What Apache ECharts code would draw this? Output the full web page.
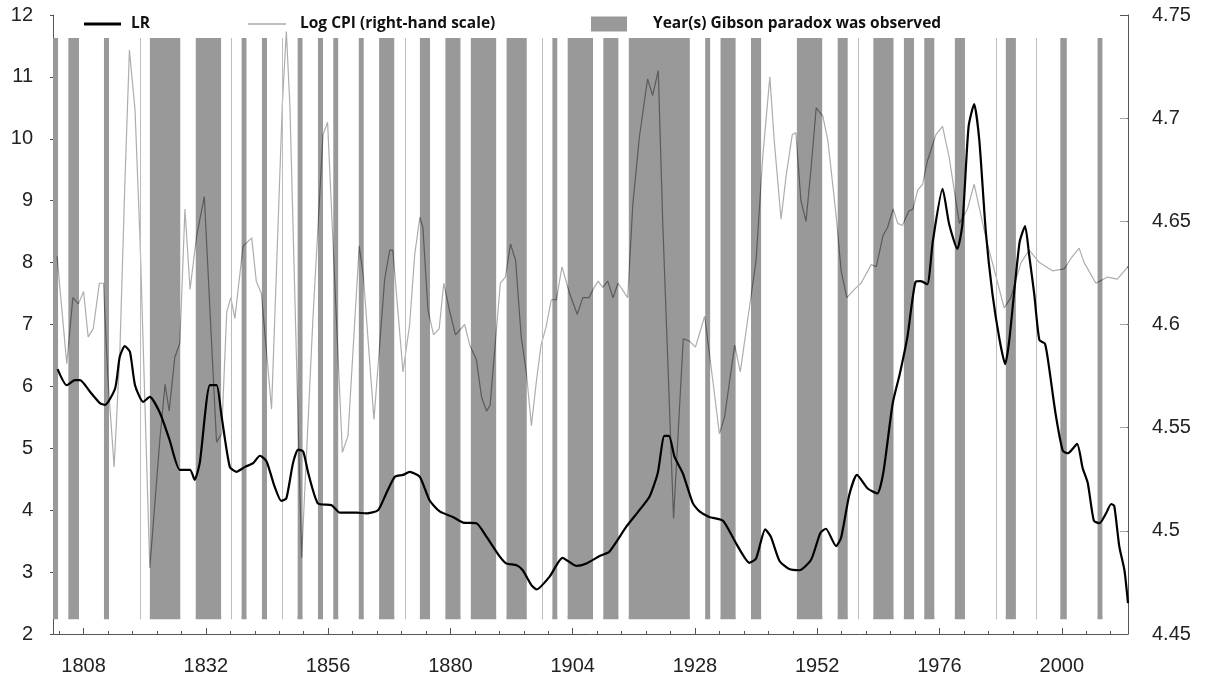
<!DOCTYPE html>
<html><head><meta charset="utf-8">
<script src="https://cdn.jsdelivr.net/npm/echarts@6/dist/echarts.min.js"></script>
<style>html,body{margin:0;padding:0;background:#fff}#c{width:1208px;height:684px}</style>
</head><body><div id="c"></div>
<script>
// ---------- DATA ----------
const lrYears = [1802.9,1804.7,1806.3,1807.3,1809.3,1811.2,1812.2,1814.2,1815.1,1816.1,1817.1,1818.1,1819.7,1821.0,1823.0,1824.9,1826.9,1828.9,1829.8,1830.8,1832.8,1834.1,1835.1,1836.7,1838.0,1839.7,1841.3,1842.6,1843.9,1845.5,1846.8,1847.8,1849.1,1850.1,1851.1,1852.1,1854.0,1856.7,1858.3,1861.6,1863.5,1865.8,1867.4,1869.1,1870.7,1872.0,1874.0,1875.9,1877.9,1880.5,1882.5,1885.1,1887.1,1889.7,1891.0,1893.0,1894.2,1895.9,1896.9,1899.5,1902.0,1904.7,1906.7,1909.3,1911.2,1914.5,1917.1,1919.1,1920.7,1922.0,1922.9,1924.0,1925.6,1927.6,1928.9,1930.8,1933.5,1936.1,1938.7,1940.0,1941.8,1942.9,1944.6,1946.5,1948.5,1950.8,1952.6,1953.7,1955.7,1956.7,1958.3,1959.8,1961.9,1963.8,1965.0,1966.8,1968.2,1969.7,1971.3,1972.3,1973.6,1974.7,1976.6,1977.9,1979.5,1980.5,1981.7,1982.8,1983.8,1985.1,1986.4,1987.8,1988.9,1989.7,1991.7,1992.8,1993.6,1994.6,1995.6,1996.7,1997.5,1998.8,2000.2,2001.2,2003.0,2004.1,2005.1,2006.3,2007.4,2008.7,2009.7,2010.3,2011.3,2012.3,2013.0];
const lrValues = [6.28,6.02,6.10,6.10,5.91,5.73,5.70,5.97,6.48,6.65,6.56,6.02,5.75,5.83,5.57,5.13,4.65,4.65,4.49,4.76,6.02,6.02,5.51,4.70,4.62,4.70,4.76,4.88,4.79,4.38,4.15,4.19,4.76,4.98,4.95,4.60,4.11,4.08,3.96,3.96,3.95,4.00,4.27,4.54,4.57,4.62,4.54,4.16,3.98,3.89,3.80,3.79,3.57,3.25,3.14,3.11,3.03,2.79,2.72,2.93,3.23,3.10,3.14,3.26,3.33,3.73,4.00,4.22,4.60,5.20,5.20,4.86,4.60,4.11,3.98,3.89,3.83,3.46,3.15,3.22,3.69,3.57,3.18,3.05,3.03,3.20,3.63,3.70,3.42,3.56,4.25,4.57,4.35,4.27,4.62,5.72,6.20,6.80,7.69,7.70,7.65,8.35,9.19,8.62,8.22,8.62,10.19,10.56,9.99,8.49,7.49,6.75,6.36,6.75,8.32,8.59,8.12,7.49,6.75,6.69,6.31,5.55,4.96,4.92,5.07,4.68,4.44,3.83,3.79,3.95,4.10,4.07,3.41,3.03,2.50];

const cpiYears = [1802.8,1804.7,1805.9,1807.0,1808.0,1808.9,1809.9,1811.1,1811.9,1812.8,1814.0,1815.1,1816.1,1817.0,1818.1,1819.1,1821.0,1823.0,1824.0,1824.8,1825.9,1826.9,1827.9,1828.9,1830.2,1831.7,1834.1,1835.1,1836.1,1836.9,1837.7,1839.3,1841.0,1841.9,1842.9,1844.9,1847.0,1847.8,1848.5,1850.8,1853.0,1855.0,1855.9,1858.8,1859.9,1862.1,1862.9,1865.0,1867.1,1868.1,1868.7,1870.7,1872.0,1873.0,1874.0,1874.6,1875.6,1876.7,1877.8,1878.7,1879.9,1881.0,1882.8,1883.8,1885.1,1886.1,1887.1,1887.8,1889.8,1890.8,1891.8,1892.8,1893.9,1894.9,1895.9,1896.9,1897.8,1898.8,1899.8,1900.8,1901.9,1903.4,1904.9,1906.0,1907.2,1908.0,1909.0,1909.9,1910.9,1911.9,1912.9,1914.8,1915.8,1917.1,1918.7,1919.7,1920.8,1921.7,1923.8,1925.7,1926.9,1928.1,1929.9,1931.5,1932.8,1933.8,1935.8,1936.9,1940.0,1941.3,1942.7,1943.6,1944.9,1945.9,1947.1,1947.8,1948.8,1949.8,1950.8,1951.8,1953.1,1954.1,1955.7,1956.7,1957.8,1959.3,1960.6,1962.6,1963.6,1964.9,1965.8,1966.9,1967.8,1968.7,1970.0,1970.8,1971.7,1972.7,1973.6,1975.3,1976.6,1977.9,1979.9,1981.5,1982.8,1985.1,1986.7,1988.7,1990.0,1992.0,1993.6,1995.6,1998.2,2000.5,2001.8,2003.4,2004.4,2006.7,2009.0,2010.9,2012.3,2013.0];
const cpiValues = [4.633,4.581,4.613,4.610,4.616,4.594,4.598,4.620,4.620,4.573,4.531,4.585,4.668,4.733,4.704,4.640,4.482,4.545,4.571,4.558,4.584,4.591,4.656,4.617,4.643,4.662,4.543,4.547,4.606,4.613,4.603,4.638,4.642,4.621,4.615,4.559,4.706,4.742,4.706,4.487,4.602,4.692,4.698,4.538,4.546,4.638,4.624,4.554,4.622,4.636,4.636,4.577,4.600,4.634,4.652,4.647,4.607,4.595,4.598,4.620,4.606,4.595,4.600,4.590,4.583,4.565,4.558,4.561,4.620,4.623,4.639,4.631,4.594,4.577,4.551,4.573,4.590,4.599,4.612,4.612,4.628,4.615,4.605,4.613,4.613,4.617,4.621,4.618,4.621,4.613,4.620,4.613,4.658,4.691,4.719,4.711,4.723,4.648,4.506,4.593,4.592,4.589,4.604,4.573,4.547,4.555,4.590,4.577,4.631,4.681,4.720,4.688,4.651,4.672,4.692,4.693,4.660,4.650,4.676,4.705,4.701,4.689,4.653,4.626,4.613,4.617,4.620,4.629,4.628,4.643,4.647,4.656,4.649,4.648,4.655,4.656,4.665,4.668,4.679,4.692,4.696,4.681,4.649,4.656,4.668,4.642,4.627,4.608,4.613,4.630,4.636,4.630,4.626,4.627,4.632,4.637,4.630,4.620,4.623,4.622,4.626,4.628];

// Years in which the Gibson paradox was observed (start, end of each shaded span;
// equal start and end = a single boundary year drawn as a hairline)
const gibsonStart = [1802,1805,1812,1819,1821,1830,1837,1839,1843,1847,1850,1854,1857,1862,1866,1871,1874,1879,1884,1891,1898,1900,1903,1910,1915,1930,1933,1939,1948,1956,1960,1963,1969,1973,1979,1987,1989,1995,1999.7,2007];
const gibsonEnd   = [1803,1807.1,1813,1819,1827,1835,1837,1840,1844,1847,1851,1855,1858,1863,1869,1871,1876,1882,1889,1895,1898,1901,1908,1913,1927,1931,1936,1941,1953,1958,1960,1967,1971,1975,1981,1987,1991,1995,2001,2008];

const xTickLabels = [1808,1832,1856,1880,1904,1928,1952,1976,2000];
const seriesNames = ['LR','Log CPI (right-hand scale)','Year(s) Gibson paradox was observed'];

// ---------- CHART ----------
const X_MIN = 1802, X_MAX = 2013;
const BAR_TOP = 11.63, BAR_BOTTOM = 2.24;
const BAR_COLOR = '#999999';
const minorTicks = [];
for (let v = 1808 - 4.8; v < X_MAX; v += 4.8) if (v > X_MIN) minorTicks.push(+v.toFixed(2));

const wideBars = [], thinBars = [];
gibsonStart.forEach((s, i) => { (gibsonEnd[i] > s ? wideBars : thinBars).push([s, gibsonEnd[i]]); });
// gaps between the shaded spans (used to lighten the CPI line outside the shading)
const gaps = [];
let prev = X_MIN;
wideBars.slice().sort((a, b) => a[0] - b[0]).forEach(b => { if (b[0] > prev) gaps.push([prev, b[0]]); prev = Math.max(prev, b[1]); });
if (prev < X_MAX) gaps.push([prev, X_MAX]);

const chart = echarts.init(document.getElementById('c'), null, {renderer: 'canvas'});
const font = 'Liberation Sans, Arial, sans-serif';
function legendText(pad) {
  return {fontFamily: 'Open Sans, sans-serif', fontWeight: 'bold', fontSize: 15.5, color: '#111',
          rich: {t: {fontFamily: 'Open Sans, sans-serif', fontWeight: 'bold', fontSize: 15.5, color: '#111', padding: [0, 0, 0, pad]}}};
}

chart.setOption({
  backgroundColor: '#ffffff',
  animation: false,
  grid: {left: 53, right: 80, top: 15, bottom: 50},
  legend: [
    {data: [seriesNames[0]], left: 84, top: 16, padding: 0, icon: 'rect', itemWidth: 37, itemHeight: 3,
     formatter: n => '{t|' + n + '}', textStyle: legendText(5), itemStyle: {color: '#000'}},
    {data: [seriesNames[1]], left: 248, top: 16, padding: 0, icon: 'rect', itemWidth: 38, itemHeight: 1.5,
     formatter: n => '{t|' + n + '}', textStyle: legendText(9), itemStyle: {color: '#a8a8a8'}},
    {data: [seriesNames[2]], left: 591, top: 16, padding: 0, icon: 'rect', itemWidth: 36, itemHeight: 15,
     formatter: n => '{t|' + n + '}', textStyle: legendText(21), itemStyle: {color: BAR_COLOR}}
  ],
  xAxis: [
    {type: 'value', min: X_MIN, max: X_MAX, position: 'bottom',
     axisLine: {show: true, lineStyle: {color: '#555', width: 1}},
     axisTick: {show: true, inside: true, length: 6, customValues: xTickLabels, lineStyle: {color: '#555'}},
     axisLabel: {customValues: xTickLabels, formatter: v => String(v), fontFamily: font, fontSize: 20, color: '#222', margin: 22},
     splitLine: {show: false}},
    {type: 'value', min: X_MIN, max: X_MAX, position: 'bottom',
     axisLine: {show: false},
     axisTick: {show: true, inside: true, length: 3, customValues: minorTicks, lineStyle: {color: '#555'}},
     axisLabel: {show: false}, splitLine: {show: false}}
  ],
  yAxis: [
    {type: 'value', min: 2, max: 12, interval: 1, position: 'left',
     axisLine: {show: true, lineStyle: {color: '#555'}},
     axisTick: {show: true, length: 3, lineStyle: {color: '#555'}},
     axisLabel: {fontFamily: font, fontSize: 20, color: '#222', margin: 20, padding: [8, 0, 0, 0]},
     splitLine: {show: false}},
    {type: 'value', min: 4.45, max: 4.75, interval: 0.05, position: 'right',
     axisLine: {show: true, lineStyle: {color: '#555'}},
     axisTick: {show: true, inside: true, length: 8, lineStyle: {color: '#555'}},
     axisLabel: {fontFamily: font, fontSize: 20, color: '#222', margin: 24, padding: [6, 0, 0, 0]},
     splitLine: {show: false}}
  ],
  series: [
    // shaded spans (bottom layer)
    {name: seriesNames[2], type: 'custom', xAxisIndex: 0, yAxisIndex: 0, z: 1,
     itemStyle: {color: BAR_COLOR}, silent: true,
     data: wideBars, encode: {x: [0, 1]},
     renderItem: function (params, api) {
       const p0 = api.coord([api.value(0), BAR_TOP]);
       const p1 = api.coord([api.value(1), BAR_BOTTOM]);
       return {type: 'rect', shape: {x: p0[0], y: p0[1], width: p1[0] - p0[0], height: p1[1] - p0[1]},
               style: {fill: BAR_COLOR}};
     }},
    // CPI line (drawn dark, lightened outside the shading below)
    {name: seriesNames[1], type: 'line', xAxisIndex: 0, yAxisIndex: 1, z: 2,
     data: cpiYears.map((y, i) => [y, cpiValues[i]]),
     showSymbol: false, symbol: 'none',
     lineStyle: {color: '#5a5a5a', width: 1.2}, itemStyle: {color: '#a8a8a8'}},
    // white veil over the unshaded years
    {type: 'custom', xAxisIndex: 0, yAxisIndex: 0, z: 3, silent: true,
     data: gaps, encode: {x: [0, 1]},
     renderItem: function (params, api) {
       const p0 = api.coord([api.value(0), 11.92]);
       const p1 = api.coord([api.value(1), 2.3]);
       const x0 = Math.max(p0[0], params.coordSys.x + 1);
       const x1 = Math.min(p1[0], params.coordSys.x + params.coordSys.width - 1);
       return {type: 'rect', shape: {x: x0, y: p0[1], width: x1 - x0, height: p1[1] - p0[1]},
               style: {fill: 'rgba(255,255,255,0.5)'}};
     }},
    // hairlines for single boundary years
    {type: 'custom', xAxisIndex: 0, yAxisIndex: 0, z: 4, silent: true,
     data: thinBars, encode: {x: [0, 1]},
     renderItem: function (params, api) {
       const p0 = api.coord([api.value(0), BAR_TOP]);
       const p1 = api.coord([api.value(1), BAR_BOTTOM]);
       return {type: 'rect', shape: {x: Math.round(p0[0]), y: p0[1], width: 1, height: p1[1] - p0[1]},
               style: {fill: '#bdbdbd'}};
     }},
    // LR line on top
    {name: seriesNames[0], type: 'line', xAxisIndex: 0, yAxisIndex: 0, z: 5,
     data: lrYears.map((y, i) => [y, lrValues[i]]),
     showSymbol: false, symbol: 'none', smooth: 0.2,
     lineStyle: {color: '#000', width: 2.2}, itemStyle: {color: '#000'}}
  ]
});
</script></body></html>
